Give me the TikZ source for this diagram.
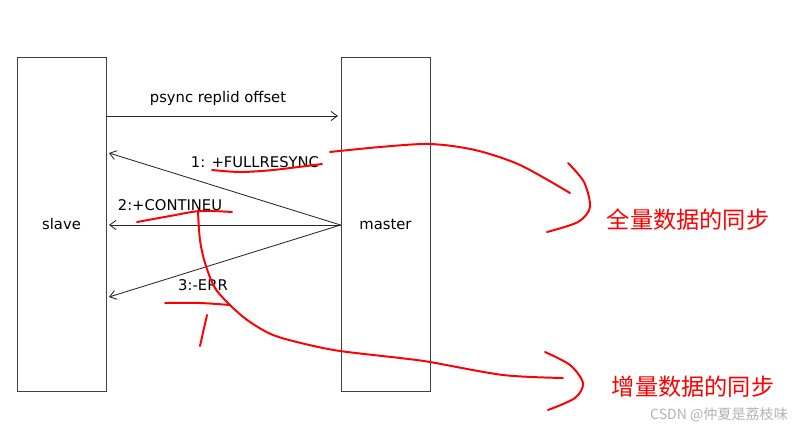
\documentclass[tikz,border=0pt]{standalone}
\usepackage{fontspec}
\usetikzlibrary{arrows.meta}
\setmainfont{DejaVu Sans}
\newfontfamily\cjk{Noto Sans CJK SC}
\tikzset{
  hostbox/.style={draw=black!75, line width=0.6pt, minimum width=2.225cm, minimum height=8.35cm, inner sep=0pt, font=\fontsize{10.5}{12}\selectfont},
  msg/.style={-{Straight Barb[length=4.5pt,width=6.5pt]}, black!85, line width=0.6pt},
  msglabel/.style={font=\fontsize{10.5}{12}\selectfont, inner sep=1pt},
  redpen/.style={draw=red, line width=1.4pt, line cap=round, line join=round},
  note/.style={text=red, font=\cjk\fontsize{16.5}{18}\selectfont}
}
\begin{document}
\begin{tikzpicture}[x=0.025cm,y=-0.025cm]
\useasboundingbox (0,0) rectangle (796,430);
\node[hostbox] (slave) at (61.5,224) {slave};
\node[hostbox] (master) at (385.5,224) {master};
\coordinate (in0) at (338,116);
\coordinate (out1) at (109,153);
\coordinate (out2) at (109,225);
\coordinate (out3) at (109,297);
\draw[msg] (slave.east |- in0) -- (in0);
\draw[msg] (master.west |- out2) -- (out1);
\draw[msg] (master.west |- out2) -- (out2);
\draw[msg] (master.west |- out2) -- (out3);
\node[msglabel] (lpsync) at (218,98) {psync replid offset};
\node[msglabel] (lfull) at (255,162) {1: +FULLRESYNC};
\node[msglabel] (lcont) at (170,205) {2:+CONTINEU};
\node[msglabel] (lerr) at (203,285) {3:-ERR};
% red handwriting
\draw[redpen] plot[smooth] coordinates {(212,170) (240,172) (273,170) (322,164)};
\draw[redpen] plot[smooth] coordinates {(330,152) (380,147) (430,144) (475,150) (520,165) (570,193)};
\draw[redpen] plot[smooth] coordinates {(568,163) (584,182) (590,207) (578,222) (547,232)};
\node[note] (nfull) at (688,220) {全量数据的同步};
\draw[redpen] plot[smooth] coordinates {(137,222) (170,216) (200,211) (232,212)};
\draw[redpen] plot[smooth] coordinates {(198,212) (200,240) (205,263) (215,288) (232,307) (250,322) (273,335) (305,344) (340,351) (400,358) (430,362) (503,375) (563,378)};
\draw[redpen] plot[smooth] coordinates {(545,352) (570,365) (583,383) (575,398) (548,410)};
\node[note] (ninc) at (693,387) {增量数据的同步};
\draw[redpen] plot[smooth] coordinates {(165,303) (200,303) (230,305)};
\draw[redpen] (207,315) -- (200,346);
\node[text=black!30, font=\cjk\fontsize{10}{11}\selectfont] (mark) at (719,415) {CSDN @仲夏是荔枝味};
\end{tikzpicture}
\end{document}
